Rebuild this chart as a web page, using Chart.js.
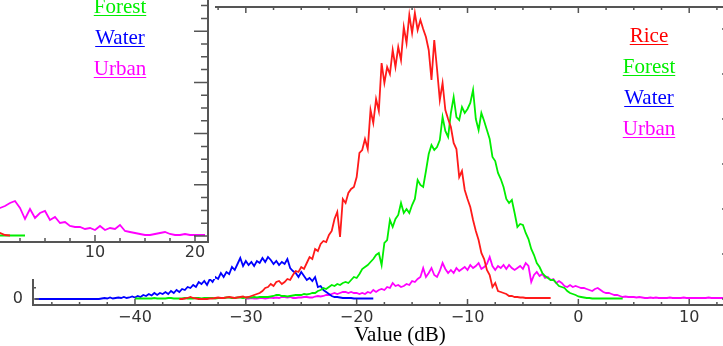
<!DOCTYPE html>
<html><head><meta charset="utf-8">
<script src="https://cdn.jsdelivr.net/npm/chart.js@4.4.1/dist/chart.umd.min.js"></script>
<style>
html,body{margin:0;padding:0;width:723px;height:346px;overflow:hidden;background:#fff}
body{position:relative}
#mainWrap{position:absolute;left:0;top:0;width:735px;height:346px}
#insetWrap{position:absolute;left:-40px;top:-20px;width:255px;height:299px;background:#fff}
.lg{position:absolute;font-family:"Liberation Serif","Times New Roman",serif;font-size:21px;line-height:21px;text-decoration:underline;text-decoration-thickness:1px;text-underline-offset:2px;white-space:nowrap;transform:translateX(-50%)}
</style></head><body>
<div id="mainWrap"><canvas id="mainC" width="735" height="346"></canvas></div>
<div id="insetWrap"><canvas id="insetC" width="255" height="299"></canvas></div>
<div class="lg" style="left:649px;top:25px;color:#ff0000">Rice</div>
<div class="lg" style="left:649px;top:56px;color:#00ee00">Forest</div>
<div class="lg" style="left:649px;top:86.5px;color:#0000ff">Water</div>
<div class="lg" style="left:649px;top:117.5px;color:#ff00ff">Urban</div>
<div class="lg" style="left:120px;top:-3.6px;color:#00ee00">Forest</div>
<div class="lg" style="left:120px;top:27.4px;color:#0000ff">Water</div>
<div class="lg" style="left:120px;top:58.4px;color:#ff00ff">Urban</div>
<div class="lg" style="left:400px;top:324.4px;color:#000;text-decoration:none">Value (dB)</div>
<script>
// ---- main panel: histogram values in bins of 0.25 dB ----
const binStep = 0.25;
const riceStart = -36;
const riceValues = [
 0,0,0.5,1,2,1,0.5,0,0,0, 0,0.5,0.5,1,1.5,1,1,1.5,2,1.5, 1,1.5,2,2.5,1.5,
 2,3,4,5,6,8,11,12,15,13, 17,18,15,17,20,19,24,28,27,32, 30,36,42,40,50,48,55,58,57,64,
 68,80,87,62,100,96,106,110,112,122, 146,149,160,150,189,176,200,188,236,216,
 232,225,249,232,252,239,272,256,284,266, 286,269,279,270,262,249,219,259,230,199,
 216,189,180,172,156,150,122,128,109,100, 92,79,68,59,46,40,29,24,12,16,
 8,7,6,5,3,3,2,2,1.5,1.5, 1,1,1,1,1,1,1,1,1,1];
const forestStart = -40;
const forestValues = [
 0.5,0.5,0.5,0.5,0.5,0.5,0.5,1,0.5,0.5, 0.5,0.5,1,1,0.5,0.5,0.5,0.5,1,0.5,
 0.5,0.5,1,1,0.5,1,1,1,1,0.5, 1,1,1,1.5,1.5,1,1,1.5,1.5,1, 1.5,
 1.5,1.5,2,1.5,2,2,2,2,2.5,3, 4,4,3,3,2.5,3,3.5,4,4,4, 5,4.5,5,6,6,8,9,11,10,12, 14,13,15,14,16,17,16,19,22,21,
 25,30,32,34,37,40,44,46,34,56, 59,79,72,80,84,96,86,90,86,94, 100,119,114,112,128,145,154,149,152,159, 182,168,162,186,202,182,179,192,186,190,
 196,209,180,169,186,178,169,160,142,138, 126,120,112,100,96,99,86,72,75,74, 66,60,50,44,36,32,26,23,21,19, 19,16,13,12,11,8,6,5,4,2.5,
 2,1.5,1,1,0.5,0.5,0.5,0.5,0.5,0.5, 0.5,0.5,0.5,0.5,0.5,0.5];
const waterStart = -49;
const waterValues = [
 0,0,0,0,0,0,0,0,0,0, 0,0,0,0,0,0,0,0,0,0, 0,0,0,0,
 0.5,1,0.5,1.5,0.5,1,1.5,1,2,1, 1.5,2.5,1.5,3,2,4,3,5,3.5,6, 4,6,5,7,5,8,6,9,7,10,
 9,12,11,14,12,17,15,18,14,20, 17,22,20,26,22,27,25,32,29,35, 41,33,38,34,37,33,38,36,41,37,
 42,39,35,38,34,37,35,40,31,28, 26,22,27,23,19,21,18,22,12,13, 9,7,5,3,2,2,1.5,1,1,1,
 1,0.5,0.5,0.5,0.5,0.5,0.5,0.5,0.5];
const urbanStart = -30;
const urbanValues = [
 0.5,0.5,1,0.5,0.5,1,1,0.5,1,1.5, 1,1.5,1,2,2,1.5,2,1,1,1.5, 1.5,2,2,1.5,1.5,2.5,3,2.5,3,4, 4,5,6,5,6,7,7,6,7,6, 6,
 5,6,5,7,6,9,7,9,10,9, 12,11,16,13,14,12,13,15,14,18, 17,20,22,31,22,26,31,24,22,28, 36,30,26,29,26,31,28,30,32,29,
 34,31,33,36,30,32,35,42,33,29, 33,31,34,30,34,31,29,31,33,30, 36,33,17,24,27,23,25,21,22,19, 20,16,18,16,13,12,14,12,13,12,
 11,11,10,9,8,10,11,9,7,6, 6,5,4,4,3,2,2.5,2,2,2, 1.5,2,1.5,1,1,1.5,1,1.5,1,1, 1,1,1.5,1,1,1,1,1.5,1,1, 1,1,1,1,1,1,1.5,1,1,1, 1,1,1,1];
const xTickValues = [-40,-30,-20,-10,0,10];
const yTickValues = [0];
// ---- inset panel (partly visible second plot), bins of 0.5 ----
const insetStep = 0.5;
const insetUrbanStart = -2;
const insetUrbanValues = [22,25,24,27,26,28,30,33,35,28,17,27,18,23,25,16,19,13,14,10,9,9,7,8,6,10,6,8,7,11,5,4,3,2,1,1,2,3,4,2,1,1,2,1,1,1,1];
const insetRiceStart = -2;
const insetRiceValues = [1,1,2,1,2,3,1,0.5];
const insetForestStart = -2;
const insetForestValues = [0.5,0.5,0.5,0.5,0.5,0.5,0.5,0.5,0.5,0.5,0.5];
const insetXTickValues = [10,20];

const toPts = (start, vals, step) => vals.map((v,i)=>({x:start+i*step, y:v}));
const fmt = v => (v<0 ? '\u2212'+Math.abs(v) : String(v));
const AX = '#555555';
const tickFont = {family:'DejaVu Sans', size:16};
const ds = (label, pts, color) => ({label, data:pts, borderColor:color, backgroundColor:color, borderWidth:1.8, pointRadius:0, tension:0, fill:false, xAxisID:'x', yAxisID:'y'});
const noPad = s => { s.paddingTop = 0; s.paddingBottom = 0; s.paddingLeft = 0; s.paddingRight = 0; };

const mainTicks = {
  id:'mainTicks',
  afterDraw(chart){
    const {ctx, chartArea:a, scales} = chart;
    const xs = scales.x, ys = scales.y;
    ctx.save(); ctx.strokeStyle = AX; ctx.lineWidth = 1.5; ctx.beginPath();
    for (let v=-47.5; v<=13.5; v+=2.5){
      const px = xs.getPixelForValue(v); const L = (v%10===0)?6:3;
      ctx.moveTo(px,a.bottom); ctx.lineTo(px,a.bottom-L);
      ctx.moveTo(px,a.top); ctx.lineTo(px,a.top+L);
    }
    for (let i=0; i*11.25<=292; i++){
      const py = ys.getPixelForValue(i*11.25); const L = (i%4===0)?6:3;
      ctx.moveTo(a.left,py); ctx.lineTo(a.left+L,py);
      ctx.moveTo(a.right,py); ctx.lineTo(a.right-L,py);
    }
    ctx.stroke(); ctx.restore();
  }
};

new Chart(document.getElementById('mainC'), {
  type:'line',
  data:{datasets:[
    ds('Rice', toPts(riceStart, riceValues, binStep), '#ff1a1a'),
    ds('Forest', toPts(forestStart, forestValues, binStep), '#00ee00'),
    ds('Water', toPts(waterStart, waterValues, binStep), '#0000ff'),
    ds('Urban', toPts(urbanStart, urbanValues, binStep), '#ff00ff')
  ]},
  options:{
    responsive:false, animation:false,
    layout:{padding:0},
    plugins:{legend:{display:false}, tooltip:{enabled:false}, title:{display:false}},
    scales:{
      x:{type:'linear', position:'bottom', min:-49.2, max:13.5,
         afterBuildTicks:s=>{s.ticks = xTickValues.map(v=>({value:v}));},
         ticks:{callback:v=>fmt(v), font:tickFont, color:'#333', padding:3, maxRotation:0, autoSkip:false},
         grid:{display:false, drawTicks:false}, border:{display:true, color:AX, width:2},
         afterFit:s=>{s.height=41; noPad(s);}},
      xTop:{type:'linear', position:'top', min:-49.2, max:13.5,
         ticks:{display:false}, grid:{display:false, drawTicks:false}, border:{display:true, color:AX, width:2},
         afterFit:s=>{s.height=7; noPad(s);}},
      y:{type:'linear', position:'left', min:-6, max:292,
         afterBuildTicks:s=>{s.ticks = yTickValues.map(v=>({value:v}));},
         ticks:{callback:v=>fmt(v), font:tickFont, color:'#333', padding:10},
         grid:{display:false, drawTicks:false}, border:{display:true, color:AX, width:2},
         afterFit:s=>{s.width=33; noPad(s);}},
      yR:{type:'linear', position:'right', min:-6, max:292,
         ticks:{display:false}, grid:{display:false, drawTicks:false}, border:{display:true, color:AX, width:2},
         afterFit:s=>{s.width=7; noPad(s);}}
    }
  },
  plugins:[mainTicks]
});

const insetTicks = {
  id:'insetTicks',
  afterDraw(chart){
    const {ctx, chartArea:a, scales} = chart;
    const xs = scales.x, ys = scales.y;
    ctx.save(); ctx.strokeStyle = AX; ctx.lineWidth = 1.5; ctx.beginPath();
    for (let v=0; v<=21; v+=2.5){
      const px = xs.getPixelForValue(v); const L = (v%10===0)?7:4;
      ctx.moveTo(px,a.bottom); ctx.lineTo(px,a.bottom-L);
    }
    for (let i=0; i*12.8<=246; i++){
      const py = ys.getPixelForValue(i*12.8); const L = (i%4===0)?14:7;
      ctx.moveTo(a.right,py); ctx.lineTo(a.right-L,py);
    }
    ctx.stroke(); ctx.restore();
  }
};

new Chart(document.getElementById('insetC'), {
  type:'line',
  data:{datasets:[
    ds('Rice', toPts(insetRiceStart, insetRiceValues, insetStep), '#ff1a1a'),
    ds('Forest', toPts(insetForestStart, insetForestValues, insetStep), '#00ee00'),
    ds('Urban', toPts(insetUrbanStart, insetUrbanValues, insetStep), '#ff00ff')
  ]},
  options:{
    responsive:false, animation:false,
    layout:{padding:{left:15, top:10, right:0, bottom:0}},
    plugins:{legend:{display:false}, tooltip:{enabled:false}},
    scales:{
      x:{type:'linear', position:'bottom', min:-2, max:21.3,
         afterBuildTicks:s=>{s.ticks = insetXTickValues.map(v=>({value:v}));},
         ticks:{callback:v=>fmt(v), font:tickFont, color:'#333', padding:1, maxRotation:0, autoSkip:false},
         grid:{display:false, drawTicks:false}, border:{display:true, color:AX, width:2},
         afterFit:s=>{s.height=37; noPad(s);}},
      y:{type:'linear', position:'right', min:-6, max:246,
         ticks:{display:false}, grid:{display:false, drawTicks:false}, border:{display:true, color:AX, width:2},
         afterFit:s=>{s.width=7; noPad(s);}}
    }
  },
  plugins:[insetTicks]
});
</script>
</body></html>
